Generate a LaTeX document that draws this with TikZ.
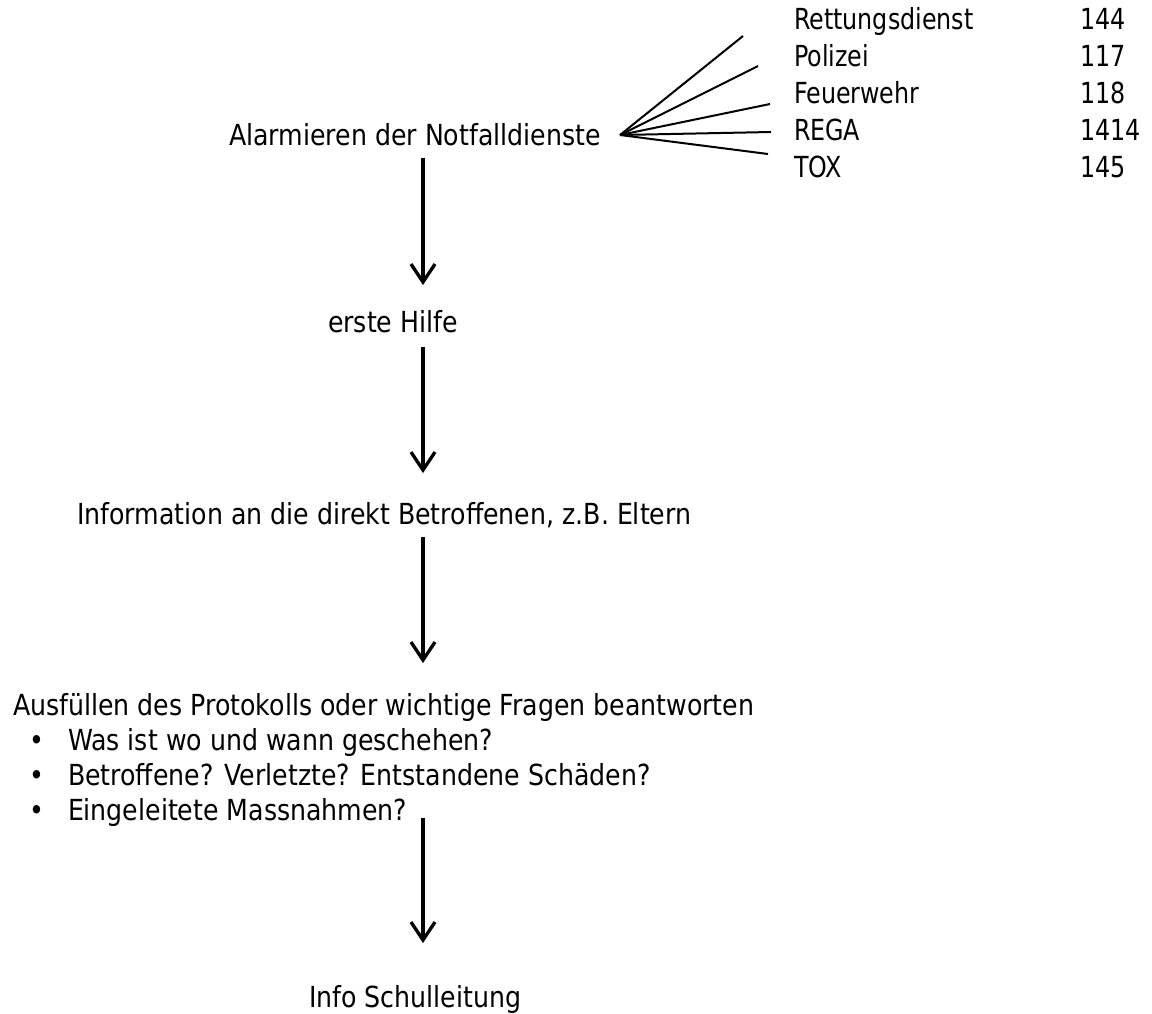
\documentclass[tikz,border=0pt]{standalone}
\usepackage{fontspec}
\setmainfont{DejaVu Sans}[FakeStretch=0.87]
\newfontfamily\listfont{DejaVu Sans}[FakeStretch=0.82]
\usetikzlibrary{arrows.meta}
\begin{document}
\begin{tikzpicture}[x=1pt,y=-1pt,
  txt/.style={anchor=base west,inner sep=0pt,outer sep=0pt,font=\fontsize{29pt}{35pt}\selectfont},
  ltxt/.style={anchor=base west,inner sep=0pt,outer sep=0pt,font=\listfont\fontsize{29pt}{35pt}\selectfont},
  flow/.style={line width=3.3pt,-{Straight Barb[length=18pt,width=24pt,line width=3.3pt]}},
  fan/.style={line width=2pt}]
\useasboundingbox (0,0) rectangle (1152,1013);
% main texts
\node[txt] (alarm) at (229,145) {Alarmieren der Notfalldienste};
\node[txt] (hilfe) at (328,332) {erste Hilfe};
\node[txt] (info) at (77,524) {Information an die direkt Betroffenen, z.B. Eltern};
\node[txt] (prot) at (13,715) {Ausfüllen des Protokolls oder wichtige Fragen beantworten};
\node[txt] (b1) at (29,750) {•};
\node[txt] (q1) at (68,750) {Was ist wo und wann geschehen?};
\node[txt] (b2) at (29,785) {•};
\node[txt] (q2) at (68,785) {Betroffene? Verletzte? Entstandene Schäden?};
\node[txt] (b3) at (29,820) {•};
\node[txt] (q3) at (68,820) {Eingeleitete Massnahmen?};
\node[txt] (schul) at (309,1007) {Info Schulleitung};
% emergency list
\node[ltxt] (l1) at (794,29) {Rettungsdienst};
\node[ltxt] (n1) at (1080,29) {144};
\node[ltxt] (l2) at (794,66) {Polizei};
\node[ltxt] (n2) at (1080,66) {117};
\node[ltxt] (l3) at (794,103) {Feuerwehr};
\node[ltxt] (n3) at (1080,103) {118};
\node[ltxt] (l4) at (794,140) {REGA};
\node[ltxt] (n4) at (1080,140) {1414};
\node[ltxt] (l5) at (794,177) {TOX};
\node[ltxt] (n5) at (1080,177) {145};
% fan
\coordinate (fo) at (620,135);
\coordinate (f1) at (743,36);
\coordinate (f2) at (758,66);
\coordinate (f3) at (770,104);
\coordinate (f4) at (771,132);
\coordinate (f5) at (768,154);
\foreach \e in {f1,f2,f3,f4,f5} \draw[fan] (fo) -- (\e);
% arrows
\coordinate (a1s) at (423,158); \coordinate (a1e) at (423,285);
\coordinate (a2s) at (423,347); \coordinate (a2e) at (423,473);
\coordinate (a3s) at (423,537); \coordinate (a3e) at (423,663);
\coordinate (a4s) at (423,818); \coordinate (a4e) at (423,943);
\draw[flow] (a1s) -- (a1e);
\draw[flow] (a2s) -- (a2e);
\draw[flow] (a3s) -- (a3e);
\draw[flow] (a4s) -- (a4e);
\end{tikzpicture}
\end{document}
